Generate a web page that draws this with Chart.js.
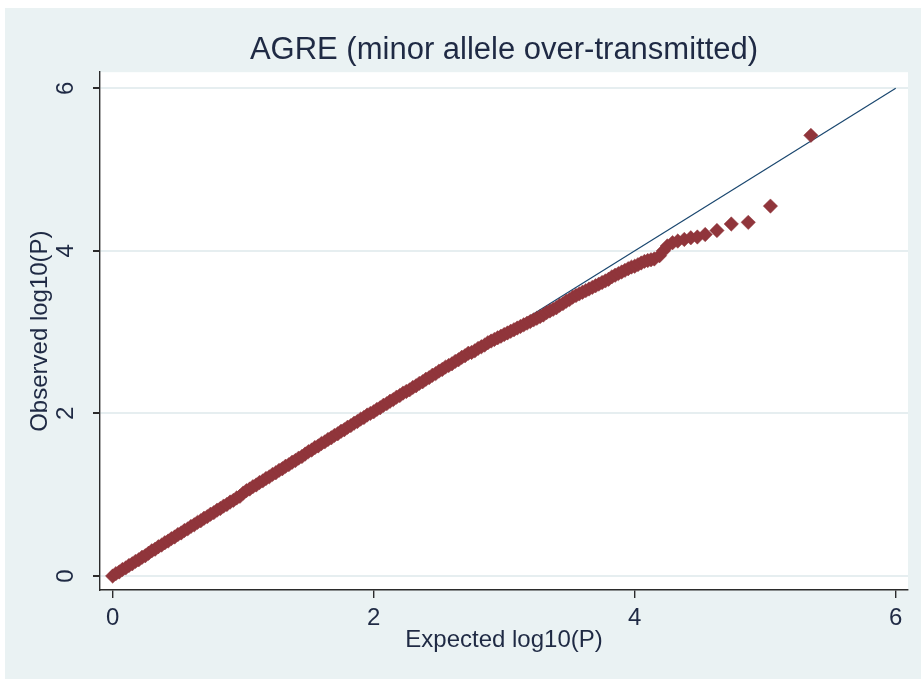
<!DOCTYPE html>
<html>
<head>
<meta charset="utf-8">
<script src="https://cdn.jsdelivr.net/npm/chart.js@4/dist/chart.umd.min.js"></script>
<style>
  html, body { margin: 0; padding: 0; background: #ffffff; }
  #qq-wrap { width: 921px; height: 679px; }
</style>
</head>
<body>
<div id="qq-wrap"><canvas id="qq-canvas" width="921" height="679"></canvas></div>
<script>
// expected vs observed -log10(P), one pair per marker
var expected = [
  0.000, 0.025, 0.050, 0.075, 0.100, 0.125, 0.150, 0.175, 0.200, 0.225,
  0.250, 0.275, 0.300, 0.325, 0.350, 0.375, 0.400, 0.425, 0.450, 0.475,
  0.500, 0.525, 0.550, 0.575, 0.600, 0.625, 0.650, 0.675, 0.700, 0.725,
  0.750, 0.775, 0.800, 0.825, 0.850, 0.875, 0.900, 0.925, 0.950, 0.975,
  1.000, 1.025, 1.050, 1.075, 1.100, 1.125, 1.150, 1.175, 1.200, 1.225,
  1.250, 1.275, 1.300, 1.325, 1.350, 1.375, 1.400, 1.425, 1.450, 1.475,
  1.500, 1.525, 1.550, 1.575, 1.600, 1.625, 1.650, 1.675, 1.700, 1.725,
  1.750, 1.775, 1.800, 1.825, 1.850, 1.875, 1.900, 1.925, 1.950, 1.975,
  2.000, 2.025, 2.050, 2.075, 2.100, 2.125, 2.150, 2.175, 2.200, 2.225,
  2.250, 2.275, 2.300, 2.325, 2.350, 2.375, 2.400, 2.425, 2.450, 2.475,
  2.500, 2.525, 2.550, 2.575, 2.600, 2.625, 2.650, 2.675, 2.700, 2.725,
  2.750, 2.775, 2.800, 2.825, 2.850, 2.875, 2.900, 2.925, 2.950, 2.975,
  3.000, 3.025, 3.050, 3.075, 3.100, 3.125, 3.150, 3.175, 3.200, 3.225,
  3.250, 3.275, 3.300, 3.325, 3.350, 3.375, 3.400, 3.425, 3.450, 3.475,
  3.500, 3.525, 3.550, 3.575, 3.600, 3.625, 3.650, 3.675, 3.700, 3.725,
  3.750, 3.775, 3.800, 3.825, 3.850, 3.875, 3.900, 3.925, 3.950, 3.975,
  4.000, 4.025, 4.050, 4.075, 4.100, 4.125, 4.150,
  4.190, 4.220, 4.250, 4.290, 4.330, 4.380, 4.430, 4.480, 4.540,
  4.630, 4.740, 4.870, 5.040, 5.350
];
var observed = [
  0.00, 0.03, 0.05, 0.08, 0.10, 0.13, 0.15, 0.18, 0.20, 0.23,
  0.25, 0.28, 0.31, 0.33, 0.36, 0.38, 0.41, 0.43, 0.46, 0.48,
  0.51, 0.53, 0.56, 0.58, 0.61, 0.63, 0.66, 0.68, 0.71, 0.73,
  0.76, 0.78, 0.81, 0.83, 0.86, 0.88, 0.91, 0.93, 0.96, 0.98,
  1.02, 1.05, 1.07, 1.10, 1.12, 1.15, 1.17, 1.20, 1.22, 1.25,
  1.27, 1.30, 1.32, 1.35, 1.37, 1.40, 1.42, 1.45, 1.47, 1.50,
  1.53, 1.55, 1.58, 1.60, 1.63, 1.65, 1.68, 1.70, 1.73, 1.75,
  1.78, 1.80, 1.83, 1.85, 1.88, 1.90, 1.93, 1.95, 1.98, 2.00,
  2.02, 2.05, 2.07, 2.10, 2.12, 2.15, 2.17, 2.20, 2.22, 2.25,
  2.27, 2.29, 2.32, 2.34, 2.37, 2.39, 2.42, 2.44, 2.47, 2.49,
  2.52, 2.54, 2.57, 2.59, 2.61, 2.64, 2.66, 2.69, 2.71, 2.74,
  2.75, 2.77, 2.80, 2.82, 2.84, 2.87, 2.89, 2.91, 2.93, 2.95,
  2.97, 2.99, 3.01, 3.03, 3.05, 3.07, 3.09, 3.11, 3.13, 3.15,
  3.17, 3.19, 3.21, 3.24, 3.26, 3.28, 3.30, 3.33, 3.35, 3.38,
  3.40, 3.43, 3.45, 3.47, 3.49, 3.51, 3.53, 3.55, 3.57, 3.59,
  3.61, 3.63, 3.65, 3.68, 3.70, 3.72, 3.74, 3.76, 3.78, 3.80,
  3.81, 3.83, 3.85, 3.87, 3.88, 3.89, 3.90,
  3.94, 4.00, 4.06, 4.10, 4.12, 4.14, 4.16, 4.17, 4.20,
  4.25, 4.33, 4.35, 4.55, 5.42
];
// reference line y = x
var refLine = [0, 6];
var tickValues = [0, 2, 4, 6];

var inkColor = "#1f2a44";
var fontFamily = "'Liberation Sans', Arial, sans-serif";

// stata-like light frame with a white plot region
var backdrop = {
  id: "backdrop",
  beforeDraw: function (chart) {
    var ctx = chart.ctx, a = chart.chartArea;
    ctx.save();
    ctx.fillStyle = "#eaf2f3";
    ctx.fillRect(5, 8, chart.width - 5, chart.height - 8);
    ctx.fillStyle = "#ffffff";
    ctx.fillRect(a.left, a.top, a.right - a.left, a.bottom - a.top);
    ctx.restore();
  }
};

var points = expected.map(function (x, i) { return { x: x, y: observed[i] }; });
var line = refLine.map(function (v) { return { x: v, y: v }; });

new Chart(document.getElementById("qq-canvas"), {
  type: "scatter",
  data: {
    datasets: [{
      type: "line",
      data: line,
      borderColor: "#1a476f",
      borderWidth: 1.2,
      pointRadius: 0,
      order: 2
    }, {
      data: points,
      pointStyle: "rectRot",
      pointRadius: 7.2,
      borderWidth: 0.5,
      backgroundColor: "#90353b",
      borderColor: "#90353b",
      order: 1
    }]
  },
  options: {
    responsive: false,
    animation: false,
    layout: { padding: { left: 0, right: 13, top: 0, bottom: 0 } },
    plugins: {
      legend: { display: false },
      tooltip: { enabled: false },
      title: {
        display: true,
        fullSize: false,
        text: "AGRE (minor allele over-transmitted)",
        color: inkColor,
        font: { family: fontFamily, size: 31, weight: "normal" },
        padding: { top: 32, bottom: 3 }
      }
    },
    scales: {
      x: {
        type: "linear",
        min: -0.097,
        max: 6.094,
        afterFit: function (s) { s.height = 89; },
        afterBuildTicks: function (s) { s.ticks = tickValues.map(function (v) { return { value: v }; }); },
        border: { color: "#2b2b2b", width: 1.4 },
        grid: { drawOnChartArea: false, tickColor: "#2b2b2b", tickLength: 8, lineWidth: 1.4 },
        ticks: { color: inkColor, padding: 6, font: { family: fontFamily, size: 24 } },
        title: {
          display: true,
          text: "Expected log10(P)",
          color: inkColor,
          font: { family: fontFamily, size: 24 },
          padding: { top: 0, bottom: 24 }
        }
      },
      y: {
        type: "linear",
        min: -0.172,
        max: 6.197,
        afterFit: function (s) { s.width = 100; },
        afterBuildTicks: function (s) { s.ticks = tickValues.map(function (v) { return { value: v }; }); },
        border: { color: "#2b2b2b", width: 1.4 },
        grid: { color: "#e6eef0", lineWidth: 2, tickColor: "#2b2b2b", tickLength: 7 },
        ticks: {
          color: inkColor,
          padding: 20,
          minRotation: 90,
          maxRotation: 90,
          crossAlign: "center",
          font: { family: fontFamily, size: 24 }
        },
        title: {
          display: true,
          text: "Observed log10(P)",
          color: inkColor,
          font: { family: fontFamily, size: 24 },
          padding: { top: 26, bottom: 0 }
        }
      }
    }
  },
  plugins: [backdrop]
});
</script>
</body>
</html>
